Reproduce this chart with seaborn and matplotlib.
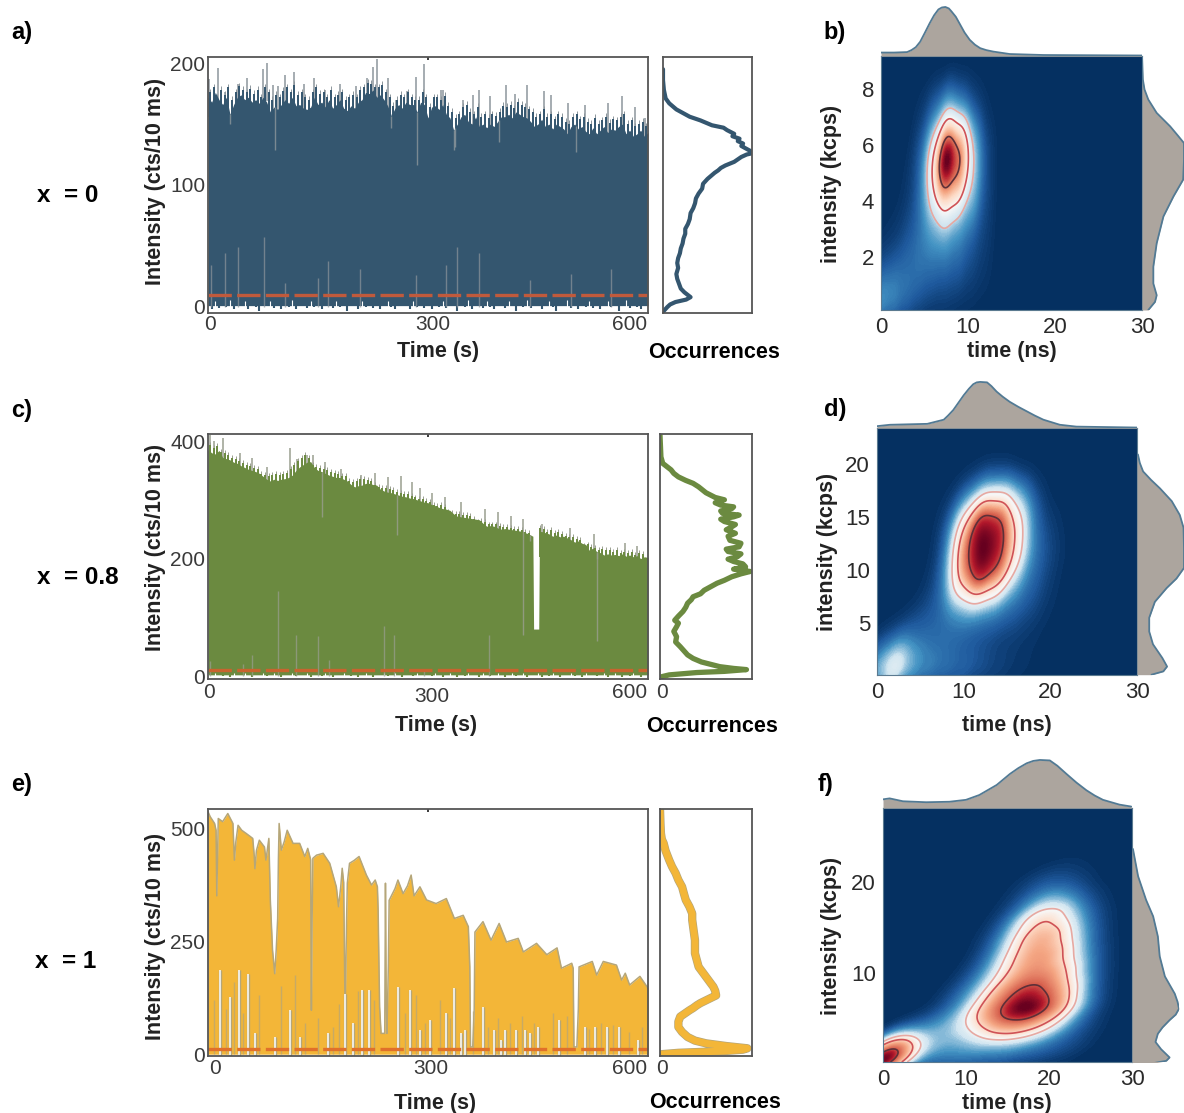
import numpy as np
import pandas as pd
import matplotlib
matplotlib.use("Agg")
import matplotlib.pyplot as plt
from matplotlib.colors import LinearSegmentedColormap
import seaborn as sns

# ---- time traces: upper envelope
a_time = np.arange(0, 605, 5)
a_top = [172,168,176,170,166,172,158,166,172,174,170,172,168,170,167,172,168,160,164,162,
         166,170,167,172,165,166,163,162,164,172,166,168,164,170,163,166,170,163,161,165,
         163,168,170,176,175,178,172,174,170,165,157,163,166,163,168,166,166,160,168,166,
         155,164,165,162,166,158,155,145,150,156,158,152,150,156,148,150,147,150,148,152,
         156,156,158,155,160,158,156,155,152,148,150,154,148,150,146,150,148,146,142,148,
         150,146,148,144,142,147,142,145,148,143,146,145,148,150,142,145,140,142,145,140,143]
a_teeth = [176,180,172,178,174,180,170,176,181,178,176,179,175,178,172,180,176,170,174,172,
           177,180,176,182,174,176,172,170,176,180,175,176,172,178,172,174,176,170,172,174,
           172,178,180,184,183,180,180,182,176,172,165,170,174,172,176,172,170,170,176,172,
           164,172,172,170,173,165,160,155,158,164,166,160,158,164,156,158,155,158,157,160,
           165,164,166,163,168,166,164,162,160,156,158,162,156,158,154,158,156,152,150,156,
           158,154,156,152,150,155,150,153,156,151,154,153,156,158,150,153,148,150,152,148]
a_floor = [3,-2,5,-1,4,0,6,-2,3,1,5,-2,4,0,-3,3,1,5,-1,3,-2,4,0,6,-2,2,4,-1,5,0,
           3,-2,4,1,-1,5,0,3,-3,4,1,-2,5,0,3,-1,4,-2,2,5,0,-2,4,1,3,-2,5,0,3,-1,
           2,-2,4,0,5,-1,3,1,-3,4,0,6,-2,3,1,-1,5,0,-2,4,2,-1,5,1,-3,3,0,6,-1,2,
           4,-2,1,5,0,-3,3,1,6,-1,2,-2,4,0,5,-1,3,-2,1,5,0,4,-3,2,6,-1,3,0,-2,4,1]
a_spike_t = [2,13,23,41,53,75,80,88,95,105,117,131,144,159,180,202,217,225,230,245,257,272,283,294,
             318,321,348,361,370,385,407,419,435,458,468,491,514,546,564,582,596]
a_spike_v = [187,196,176,183,188,195,200,182,181,190,193,183,188,178,183,181,188,197,203,188,170,177,189,199,
             178,178,170,174,178,173,182,175,182,177,174,167,166,167,173,164,155]
a_dip_t = [91,250,285,335,337,502,30,397]
a_dip_v = [129,147,116,129,131,127,150,135]
a_streak_t = [4,23,41,76,164,207,283,324,340,370,439,495,550,150,105]
a_streak_v = [34,44,49,57,38,31,26,34,49,44,22,27,31,24,20]
a_side_v = [195,186,178,171,167,162,156,153,149,147,145,142,140,138,136,134,132,130,128,126,125,123,121,119,116,114,112,110,
            105,101,97,93,89,85,81,77,72,68,64,60,56,52,48,44,40,36,32,27,23,19,15,12,8,6,4,2,0,-4]
a_side_x = [0,.0,.01,.03,.07,.15,.30,.42,.55,.68,.72,.80,.78,.86,.84,.90,.88,.93,.98,1.0,.94,.88,.84,.80,.70,.65,.62,.58,
            .50,.45,.44,.40,.37,.36,.34,.31,.30,.28,.25,.25,.23,.22,.20,.19,.17,.16,.17,.15,.16,.18,.20,.24,.31,.26,.14,.08,.05,0]

c_time = np.concatenate([np.arange(0, 445, 5), [443, 444, 451, 452], np.arange(455, 605, 5)])
c_top = [385,380,378,384,372,370,368,364,362,358,355,352,350,348,345,340,335,332,335,333,
         335,336,338,342,350,356,360,364,365,355,350,348,345,342,340,338,338,335,332,326,
         322,324,325,328,328,326,325,318,315,313,312,310,308,306,305,303,302,300,298,296,
         295,292,290,287,285,284,282,276,272,271,270,269,268,267,266,260,255,256,255,252,
         250,251,250,249,248,247,245,243,240,
         238,80,80,246,
         246,244,242,238,240,237,238,235,232,228,230,226,224,214,218,212,210,206,208,206,207,205,208,204,206,203,205,200,203,202]
c_teeth_early = [394,388,392,382,380,376,372,370,366,362,360,358,354,352,344,342,340,342,344,342,
                 344,346,352,360,366,372,376,372,360,356,354,352,350,348,346,344,340,340,332,330,
                 332,336,336,334,332,326,322,320,320,318,316,314,312,310,310,306,304,302,302,298,
                 296,292,290,292,288,280,278,276,276,274,274,272,268,262,264,262,258,258,258,256,
                 254,254,252,250,250,248,246,244]
c_teeth_late = [252,250,246,248,244,246,242,238,236,236,234,232,222,224,220,218,214,216,214,214,
                212,214,210,212,210,212,206,210,208]
c_floor = [5,1,6,2,0,4,-1,5,3,1,6,2,-1,4,1,5,0,3,6,1,-1,4,2,5,0,3,1,6,-1,4,
           2,0,5,3,-1,4,1,6,2,0,4,-2,3,5,1,-1,4,2,6,0,3,5,1,-1,4,2,0,5,3,1,
           4,0,6,2,-1,3,5,1,-2,4,0,6,3,1,-1,5,2,0,4,6,1,-1,3,5,0,2,6,-2,4,1,
           5,-1,3,0,6,2,-1,4,1,5,0,3,-2,6,1,4,0,2,5,-1,3,6,1,-2,4,0,5,2,-1,3,1]
c_spike_t = [3,8,21,44,60,80,112,122,135,143,160,181,208,228,246,263,278,289,305,323,345,378,395,413,430,456,493,527,568,585]
c_spike_v = [410,400,405,380,372,355,388,370,376,376,365,352,342,345,338,340,330,320,312,305,296,285,280,272,268,258,252,242,226,222]
c_dip_t = [155,258,429,439,530,531]
c_dip_v = [270,240,70,230,60,200]
c_streak_t = [3,48,96,120,150,240,253,383,60,165,295]
c_streak_v = [25,20,145,70,68,85,70,70,35,28,12]
c_side_v = [410,373,362,351,345,339,333,328,322,317,312,308,304,300,295,291,288,285,281,277,274,271,267,263,258,254,249,243,238,231,226,220,216,212,
            208,203,199,195,191,186,182,178,174,169,163,158,152,146,140,135,130,124,117,110,102,95,90,84,76,67,58,50,43,36,30,24,20,16,13,11,8,6,2,-1]
c_side_x = [0,.01,.03,.12,.15,.20,.28,.36,.42,.46,.50,.55,.60,.70,.60,.66,.80,.78,.66,.68,.86,.80,.66,.70,.82,.78,.72,.82,.74,.76,.88,.86,.72,.74,
            .88,.84,.74,.80,.90,.93,.80,.98,.88,.78,.70,.62,.55,.48,.44,.36,.34,.30,.28,.25,.20,.16,.20,.18,.15,.18,.17,.22,.26,.30,.36,.45,.55,.65,.80,.94,.70,.40,.10,.02]

e_time = [0,3,9,11,12,14,20,27,34,36,38,41,46,52,57,61,63,64,66,70,77,79,83,85,88,91,93,95,96,97,100,104,108,116,125,132,136,140,141,142,143,148,157,166,
          175,178,181,183,185,187,189,190,193,199,206,216,223,228,231,232,234,236,241,242,243,244,246,247,255,259,266,272,277,281,289,298,311,325,336,348,
          355,357,358,361,363,364,375,386,397,407,423,430,448,462,476,482,496,498,499,503,505,506,524,530,539,557,564,569,575,589,600]
e_top = [536,525,510,495,350,521,514,532,510,429,470,506,495,488,482,477,440,410,450,473,458,429,477,340,230,178,230,300,430,510,451,470,495,466,466,437,455,430,97,300,433,440,444,422,
         370,326,370,411,380,83,300,378,422,428,437,396,374,385,370,318,105,46,46,378,120,46,200,340,366,385,355,372,396,350,370,341,333,344,300,307,
         282,193,16,16,100,270,293,252,289,248,256,226,245,220,235,190,201,190,16,16,100,193,205,175,205,197,164,179,153,172,146]
e_notch_t = [17,30,42,54,64,92,112,125,164,187,198,210,220,259,275,289,303,324,335,345,351,375,390,400,405,420,432,439,450,478,514,528,544,560,587]
e_notch_v = [186,127,186,178,46,38,97,38,46,134,68,142,142,149,142,53,75,90,146,46,53,105,53,31,53,53,53,46,60,75,60,60,60,60,31]
e_streak_t = [8,24,36,48,70,100,118,132,150,170,178,204,226,268,283,296,316,330,362,382,396,412,428,445,470,490,520,536,552,574,592]
e_streak_v = [120,100,160,90,130,150,175,70,80,60,110,140,120,90,130,70,120,80,95,60,80,70,85,70,90,85,55,70,65,50,60]
e_side_v = [540,510,488,475,466,450,429,415,400,385,370,355,341,326,311,297,282,267,252,238,223,208,193,182,171,160,149,140,130,125,119,113,108,102,97,90,83,72,60,49,38,30,24,18,13,10,7,3,0]
e_side_x = [0,.005,.01,.02,.04,.06,.10,.13,.17,.20,.24,.26,.28,.32,.35,.35,.36,.37,.38,.38,.38,.40,.42,.46,.50,.54,.58,.60,.61,.56,.50,.44,.40,.36,.32,.27,.22,.20,.20,.24,.30,.38,.50,.72,.95,.90,.70,.20,.02]

# ---- FLIM maps: coarse occupancy, smoothed by the kde
b_time = [0,1.5,3,4.5,6,7.5,9,10.5,12,13.5]
b_intensity = [0.3,1.05,1.8,2.55,3.3,4.05,4.8,5.55,6.3,7.05,7.8]
b_occ = [[.10,.07,.04,.02,.01,.01,.005,.003,0,0],
         [.06,.06,.05,.04,.03,.025,.02,.012,.006,0],
         [.02,.03,.04,.05,.05,.05,.04,.02,.008,0],
         [.005,.01,.03,.05,.07,.08,.06,.03,.012,0],
         [0,.005,.015,.04,.10,.16,.10,.06,.015,0],
         [0,0,.008,.04,.16,.32,.24,.11,.02,0],
         [0,0,.005,.03,.22,.7,.50,.14,.02,0],
         [0,0,.002,.03,.24,1.0,.60,.14,.02,0],
         [0,0,0,.02,.14,.55,.36,.09,.012,0],
         [0,0,0,.008,.05,.16,.10,.03,.004,0],
         [0,0,0,.003,.02,.05,.03,.01,.002,0]]
d_time = [0,2,4,6,8,10,12,14,16,18,20,22]
d_intensity = [0.5,2,3.5,5,6.5,8,9.5,11,12.5,14,15.5,17,18.5,20]
d_occ = [[.14,.30,.12,.08,.06,.05,.03,.02,.01,.005,0,0],
         [.06,.16,.08,.05,.04,.03,.02,.01,.005,.003,0,0],
         [.01,.03,.04,.04,.04,.03,.02,.012,.01,.005,0,0],
         [0,.005,.02,.03,.04,.05,.04,.03,.02,.01,.003,0],
         [0,0,.005,.02,.04,.08,.09,.07,.04,.02,.005,0],
         [0,0,0,.01,.04,.22,.35,.22,.08,.03,.008,0],
         [0,0,0,.005,.04,.45,.85,.55,.15,.04,.01,0],
         [0,0,0,.002,.03,.50,1.0,.70,.26,.05,.015,.002],
         [0,0,0,0,.02,.46,1.0,.80,.30,.05,.015,.002],
         [0,0,0,0,.02,.34,.95,.80,.30,.04,.01,0],
         [0,0,0,0,.01,.16,.60,.55,.20,.03,.005,0],
         [0,0,0,0,.005,.04,.16,.18,.08,.012,0,0],
         [0,0,0,0,0,.01,.03,.03,.012,.003,0,0],
         [0,0,0,0,0,0,.004,.004,0,0,0,0]]
f_time = [0,2,4,6,8,10,12,14,16,18,20,22,24,26,28]
f_intensity = [0.5,2,4,6,8,10,12,14,16,18,20,22]
f_occ = [[1.5,.30,.04,.03,.03,.03,.02,.02,.01,.01,.005,.003,0,0,0],
         [.20,.12,.09,.07,.05,.05,.05,.05,.05,.04,.03,.02,.01,0,0],
         [0,.01,.03,.05,.07,.10,.16,.25,.28,.22,.14,.06,.02,.005,0],
         [0,0,0,.005,.03,.08,.25,.55,.90,.95,.55,.20,.05,.01,0],
         [0,0,0,0,.01,.04,.10,.30,.55,.65,.45,.22,.05,.012,0],
         [0,0,0,0,0,.01,.04,.12,.28,.42,.38,.20,.05,.015,0],
         [0,0,0,0,0,0,.015,.06,.20,.38,.38,.17,.05,.015,0],
         [0,0,0,0,0,0,.005,.03,.12,.32,.36,.15,.05,.012,0],
         [0,0,0,0,0,0,0,.01,.05,.20,.25,.11,.04,.01,0],
         [0,0,0,0,0,0,0,.002,.012,.05,.08,.05,.02,.005,0],
         [0,0,0,0,0,0,0,0,.003,.015,.025,.018,.008,0,0],
         [0,0,0,0,0,0,0,0,0,0,.003,.005,.003,0,0]]

# ---- marginals
b_top_t = [0,1.5,3,3.5,4,4.5,5,5.6,6.1,6.6,7,7.4,7.8,8.1,8.6,9.1,9.6,10.2,10.8,11.4,12.1,12.9,14.8,18.7,30]
b_top_v = [.07,.07,.08,.12,.18,.29,.46,.67,.83,.95,.99,1,.97,.91,.80,.64,.48,.33,.23,.16,.12,.09,.04,.02,.01]
b_right_i = [9.22,8.36,8,7.64,7.16,6.68,6.32,6.08,5.48,4.77,4.17,3.45,2.49,1.65,1.05,.63,.39,.1]
b_right_v = [0,.02,.06,.15,.35,.67,.87,1,1,.98,.75,.51,.35,.27,.27,.35,.31,.15]
d_top_t = [0,1.5,5.8,7.7,8.2,8.8,9.4,10,10.6,11.1,11.5,11.9,12.7,13.2,13.8,14.5,15.3,16.3,17.3,18.2,19.2,21.1,23,30]
d_top_v = [.04,.07,.09,.18,.27,.39,.55,.71,.85,.95,.99,1,.99,.91,.79,.68,.57,.46,.36,.27,.18,.07,.03,.01]
d_right_i = [20.9,20.1,19.3,18.5,17.7,16.5,15.2,14,12.1,10.2,9.2,8.3,7,5.5,4.2,3,1.7,.9,.44,.13]
d_right_v = [.02,.06,.13,.30,.49,.74,.91,.99,1,1,.84,.63,.38,.26,.26,.34,.54,.64,.56,.31]
f_top_t = [0,.8,2.4,5.2,8,10,11.6,13.7,15.3,16.3,17.3,18.1,18.9,20.1,21,22.1,23.3,24.5,25.5,26.5,28.5,29.9]
f_top_v = [.18,.2,.14,.12,.13,.17,.27,.48,.71,.83,.93,.98,1,.99,.88,.71,.53,.37,.26,.17,.07,.03]
f_right_i = [23.6,20.6,18,16.2,14,11.8,9.6,7.7,6.8,6.05,5.4,4.8,4,3.3,2.4,1.6,.7,.33,.07]
f_right_v = [.02,.13,.3,.45,.55,.59,.7,.91,.97,1,.93,.8,.65,.55,.5,.62,.8,.73,.45]

W, H = 1184, 1113
sns.set_theme(style="white")
plt.rcParams["font.family"] = ["Liberation Sans", "DejaVu Sans"]
fig = plt.figure(figsize=(W / 100, H / 100), dpi=100, facecolor="white")
TEXT = "#3a3a3a"
SPINE = "#555555"


def box(x0, y0, x1, y1):
    return fig.add_axes([x0 / W, 1 - y1 / H, (x1 - x0) / W, (y1 - y0) / H])


def label(x, y, s, size=15.5, rot=0, weight="bold", color="black"):
    fig.text(x / W, 1 - y / H, s, fontsize=size, fontweight=weight, rotation=rot,
             ha="center", va="center", color=color)


def trace(pos, time, top, ylim, yticks, body, edge, red, floor=None, teeth=None, spikes=None, dips=None,
          streaks=None, notches=None, tip=0):
    ax = box(*pos)
    span = ylim[1] - ylim[0]
    if spikes is not None:
        ax.vlines(spikes[0], np.array(spikes[1]) - 0.15 * span, spikes[1], color=edge, lw=1.1, zorder=0.5)
    if teeth is not None:
        teeth_v = np.array(teeth[1])
        ax.vlines(teeth[0], teeth_v - 0.12 * span, teeth_v + tip, color=edge, lw=0.7, zorder=0.6)
        ax.vlines(teeth[0], teeth_v - 0.12 * span, teeth_v, color=body, lw=1.4, zorder=0.7)
    # body of the trace, the single counts are too dense to tell apart
    if floor is None:
        ax.fill_between(time, 0, top, color=body, lw=0, zorder=1)
        sns.lineplot(x=time, y=top, sort=False, estimator=None, color=edge, lw=1.1, ax=ax, zorder=2)
    else:
        ax.fill_between(time, 0.005 * span, top, color=body, lw=0, zorder=1)
        ft = np.arange(len(floor)) * 5
        floor = np.array(floor)
        ax.vlines(ft, floor, 3, color=body, lw=1.5, zorder=1)
        # the thin white slits at the bottom of the trace
        slit = floor >= 5
        ax.vlines(ft[slit], ylim[0], floor[slit], color="white", lw=0.8, zorder=1.2)
    if dips is not None:
        ax.vlines(dips[0], dips[1], np.interp(dips[0], time, top), color=edge, lw=1.0, alpha=0.8, zorder=1.5)
    if streaks is not None:
        ax.vlines(streaks[0], 0, streaks[1], color=edge, lw=1.0, alpha=0.7, zorder=3)
    if notches is not None:
        ax.vlines(notches[0], -3, notches[1], color=edge, lw=2.4, zorder=2.5)
        ax.vlines(notches[0], -3, notches[1], color="white", lw=1.1, zorder=2.6)
    ax.axhline(red[1], color=red[0], lw=2.4, dashes=(7, 1.6), zorder=4, dash_capstyle="butt")
    ax.set_xlim(0, 600)
    ax.set_ylim(*ylim)
    ax.set_yticks(yticks)
    ax.set_xticks([300])
    ax.set_xticklabels([])
    ax.tick_params(axis="y", length=0, pad=2, labelsize=15, labelcolor=TEXT)
    ax.tick_params(axis="x", length=2, top=True, bottom=False, direction="in", color="#222222")
    ax.set_xlabel("")
    ax.set_ylabel("")
    for s in ax.spines.values():
        s.set_color(SPINE)
        s.set_linewidth(1.3)
        s.set_zorder(5)
    return ax


def side(pos, v, x, ylim, color, lw, outline=None):
    ax = box(*pos)
    if outline is not None:
        sns.lineplot(x=x, y=v, sort=False, estimator=None, color=outline, lw=lw + 1.0, ax=ax)
    sns.lineplot(x=x, y=v, sort=False, estimator=None, color=color, lw=lw, ax=ax)
    ax.set_xlim(0, 1.0)
    ax.set_ylim(*ylim)
    ax.set_xticks([])
    ax.set_yticks([])
    ax.set_xlabel("")
    ax.set_ylabel("")
    for s in ax.spines.values():
        s.set_color(SPINE)
        s.set_linewidth(1.3)
    return ax


def flim(pos, times, intensities, occ, ylim, yticks, stops, contour_levels, bw):
    ax = box(*pos)
    ax.set_facecolor("#053061")
    tt, ii = np.meshgrid(times, intensities)
    df = pd.DataFrame({"time": tt.ravel(), "intensity": ii.ravel(), "occ": np.array(occ).ravel()})
    df = df[df["occ"] > 0]
    clip = ((0, 30), ylim)
    cmap = LinearSegmentedColormap.from_list("flim", stops)
    # many more levels at the low end, the kde levels go by probability mass
    fill_levels = np.concatenate([np.geomspace(0.0005, 0.2, 120), np.linspace(0.205, 1, 120)])
    sns.kdeplot(data=df, x="time", y="intensity", weights="occ", fill=True, levels=fill_levels,
                cmap=cmap, bw_adjust=bw, gridsize=240, cut=8, clip=clip, ax=ax)
    sns.kdeplot(data=df, x="time", y="intensity", weights="occ", levels=contour_levels,
                colors=["#e7a9a2", "#cf5256", "#5d3038"], linewidths=[1.2, 1.2, 1.2],
                bw_adjust=bw, gridsize=240, cut=8, clip=clip, ax=ax)
    ax.set_xlim(0, 30)
    ax.set_ylim(*ylim)
    ax.set_xticks([0, 10, 20, 30])
    ax.set_yticks(yticks)
    ax.tick_params(length=0, pad=5, labelsize=16, labelcolor="#2a2a2a")
    ax.set_xlabel("")
    ax.set_ylabel("")
    for s in ax.spines.values():
        s.set_color("#5b7a90")
        s.set_linewidth(0.8)
    return ax


def top_margin(pos, t, v):
    ax = box(*pos)
    ax.fill_between(t, 0, v, color="#aca59e", lw=0)
    sns.lineplot(x=t, y=v, sort=False, estimator=None, color="#527a94", lw=1.3, ax=ax)
    ax.set_xlim(0, 30)
    ax.set_ylim(0, 1.02)
    ax.set_xlabel("")
    ax.set_ylabel("")
    ax.axis("off")


def right_margin(pos, i, v, ylim):
    ax = box(*pos)
    ax.fill_betweenx(i, 0, v, color="#aca59e", lw=0)
    sns.lineplot(x=v, y=i, sort=False, estimator=None, color="#527a94", lw=1.3, ax=ax)
    ax.set_xlim(0, 1.0)
    ax.set_ylim(*ylim)
    ax.set_xlabel("")
    ax.set_ylabel("")
    ax.axis("off")


# panel a
a_teeth_t = 2.5 + 5 * np.arange(len(a_teeth))
trace((208, 57, 648, 313), a_time, a_top, (-5, 205), [0, 100, 200], "#34566f", "#8d969c", ("#c05a3c", 10),
      floor=a_floor, teeth=(a_teeth_t, a_teeth), spikes=(a_spike_t, a_spike_v), dips=(a_dip_t, a_dip_v),
      streaks=(a_streak_t, a_streak_v), tip=3)
side((663, 57, 752, 313), a_side_v, a_side_x, (-5, 205), "#34566f", 3.0)
# panel c
c_teeth_t = np.concatenate([2.5 + 5 * np.arange(len(c_teeth_early)), 452.5 + 5 * np.arange(len(c_teeth_late))])
trace((208, 434, 648, 679), c_time, c_top, (-5, 412), [0, 200, 400], "#6b8a40", "#9a9f90", ("#c8642e", 10),
      floor=c_floor, teeth=(c_teeth_t, c_teeth_early + c_teeth_late), spikes=(c_spike_t, c_spike_v),
      dips=(c_dip_t, c_dip_v), streaks=(c_streak_t, c_streak_v), tip=5)
side((660, 434, 752, 679), c_side_v, c_side_x, (-5, 412), "#6b8a40", 3.8)
# panel e
trace((208, 809, 648, 1056), e_time, e_top, (-4, 542), [0, 250, 500], "#f3b638", "#b5a679", ("#e0702a", 11),
      streaks=(e_streak_t, e_streak_v), notches=(e_notch_t, e_notch_v))
side((660, 809, 752, 1056), e_side_v, e_side_x, (-4, 542), "#f3b638", 5.0, outline="#b5a679")

# colour stops per map, RdBu_r squeezed towards the low densities
b_stops = [(0, "#053061"), (.04, "#1f5a9e"), (.10, "#4393c3"), (.2, "#d1e5f0"), (.32, "#f7f7f7"), (.46, "#fddbc7"),
           (.6, "#f4a582"), (.75, "#d6604d"), (.88, "#b2182b"), (1, "#67001f")]
d_stops = [(0, "#053061"), (.03, "#1f5a9e"), (.08, "#4393c3"), (.16, "#d1e5f0"), (.26, "#f7f7f7"), (.4, "#fddbc7"),
           (.52, "#f4a582"), (.66, "#d6604d"), (.82, "#b2182b"), (1, "#67001f")]
f_stops = [(0, "#053061"), (.03, "#1f5a9e"), (.07, "#4393c3"), (.13, "#d1e5f0"), (.2, "#f7f7f7"), (.3, "#fddbc7"),
           (.45, "#f4a582"), (.68, "#d6604d"), (.84, "#b2182b"), (1, "#67001f")]
# panel b
flim((881, 56, 1142, 310), b_time, b_intensity, b_occ, (0.1, 9.2), [2, 4, 6, 8], b_stops, [0.33, 0.48, 0.78], 0.55)
top_margin((881, 6, 1142, 56), b_top_t, b_top_v)
right_margin((1142, 56, 1184, 310), b_right_i, b_right_v, (0.1, 9.2))
# panel d
flim((877, 428, 1137, 675), d_time, d_intensity, d_occ, (0.1, 23.4), [5, 10, 15, 20], d_stops, [0.27, 0.4, 0.68], 0.55)
top_margin((877, 381, 1137, 428), d_top_t, d_top_v)
right_margin((1137, 428, 1184, 675), d_right_i, d_right_v, (0.1, 23.4))
# panel f
flim((883, 808, 1132, 1062), f_time, f_intensity, f_occ, (0.2, 28.1), [10, 20], f_stops, [0.22, 0.36, 0.8], 0.45)
top_margin((883, 759, 1132, 808), f_top_t, f_top_v)
right_margin((1132, 808, 1179, 1062), f_right_i, f_right_v, (0.2, 28.1))

# x tick labels of the traces sit off the axis, so they are placed by hand
for x, y, s in [(210, 325, "0"), (433, 325, "300"), (630, 325, "600"),
                (209, 693, "0"), (432, 696, "300"), (630, 693, "600"), (662, 693, "0"),
                (215, 1068, "0"), (431, 1068, "300"), (630, 1068, "600"), (662, 1068, "0")]:
    label(x, y, s, size=15, weight="normal", color=TEXT)

for x, y, s in [(438, 352, "Time (s)"), (436, 726, "Time (s)"), (435, 1103, "Time (s)"),
                (714, 352, "Occurrences"), (712, 726, "Occurrences"), (715, 1103, "Occurrences"),
                (1012, 352, "time (ns)"), (1007, 725, "time (ns)"), (1007, 1103, "time (ns)")]:
    label(x, y, s, color="#222222" if "O" not in s else "black")
for x, y, s in [(155, 181, "Intensity (cts/10 ms)"), (155, 547, "Intensity (cts/10 ms)"), (155, 936, "Intensity (cts/10 ms)"),
                (832, 184, "intensity (kcps)"), (827, 552, "intensity (kcps)"), (832, 936, "intensity (kcps)")]:
    label(x, y, s, rot=90, color="#222222")
for x, y, s in [(22, 32, "a)"), (22, 410, "c)"), (22, 785, "e)"), (835, 32, "b)"), (835, 409, "d)"), (825, 785, "f)")]:
    label(x, y, s, size=17)
for x, y, s in [(68, 196, "x  = 0"), (78, 578, "x  = 0.8"), (66, 962, "x  = 1")]:
    label(x, y, s, size=17.5)

fig.savefig("out.png", dpi=100)
